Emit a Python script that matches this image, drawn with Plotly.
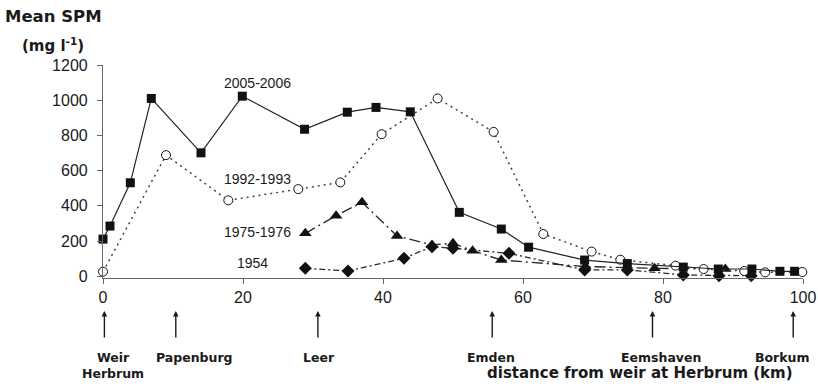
import plotly.graph_objects as go

# Distance from the weir at Herbrum (km) and mean SPM (mg/l) per survey period
km_2005 = [0, 1.0, 3.9, 6.9, 14.0, 19.9, 28.8, 34.9, 39.0, 43.9, 50.9, 56.9,
           60.8, 68.8, 74.9, 82.9, 87.9, 92.7, 96.7, 98.8]
spm_2005 = [211, 285, 531, 1010, 701, 1023, 835, 932, 959, 934, 363, 268,
            165, 92, 72, 52, 41, 41, 28, 28]

km_1992 = [0, 9.0, 17.9, 27.9, 33.9, 39.8, 47.8, 55.8, 62.9, 69.8, 73.9,
           81.8, 85.8, 91.6, 94.6, 99.9]
spm_1992 = [26, 688, 431, 495, 533, 807, 1010, 820, 240, 140, 94,
            60, 41, 30, 22, 24]

km_1975 = [28.9, 33.3, 37.0, 42.0, 47.0, 50.0, 52.8, 56.9, 68.9, 78.8, 88.9]
spm_1975 = [244, 344, 420, 229, 178, 187, 145, 92, 55, 45, 41]

km_1954 = [28.9, 35.0, 43.0, 47.0, 50.0, 58.0, 68.8, 74.9, 82.9, 88.0, 92.6]
spm_1954 = [45, 30, 102, 168, 159, 130, 36, 36, 7, 3, 3]

# Series labels and where they sit (km, mg/l)
series_labels = ["2005-2006", "1992-1993", "1975-1976", "1954"]
label_km = [22.0, 22.0, 22.0, 21.3]
label_spm = [1096, 552, 253, 74]

# Reference locations along the estuary
places = ["Weir<br>Herbrum", "Papenburg", "Leer", "Emden", "Eemshaven", "Borkum"]
place_km = [0.2, 10.4, 30.7, 55.6, 78.5, 98.6]
place_label_km = [1.4, 13.1, 30.9, 55.4, 79.7, 97.1]

x_ticks = [0, 20, 40, 60, 80, 100]
y_ticks = [0, 200, 400, 600, 800, 1000, 1200]

FONT = "Liberation Sans, Arial, sans-serif"
BOLD_FONT = "DejaVu Sans, Liberation Sans, sans-serif"
INK = "#1a1a1a"

fig = go.Figure()

fig.add_trace(go.Scatter(
    x=km_1954, y=spm_1954, mode="lines+markers", name="1954",
    line=dict(color="#2a2a2a", width=1.3, dash="6px,3px,2px,3px"),
    marker=dict(symbol="diamond", size=10, color="#111111"),
    cliponaxis=False))

fig.add_trace(go.Scatter(
    x=km_1975, y=spm_1975, mode="lines+markers", name="1975-1976",
    line=dict(color="#2a2a2a", width=1.4, dash="11px,4px,2px,4px"),
    marker=dict(symbol="triangle-up", size=11, color="#111111"),
    cliponaxis=False))

fig.add_trace(go.Scatter(
    x=km_1992, y=spm_1992, mode="lines+markers", name="1992-1993",
    line=dict(color="#444444", width=1.5, dash="2px,4px"),
    marker=dict(symbol="circle", size=9, color="white",
                line=dict(color="#111111", width=1)),
    cliponaxis=False))

fig.add_trace(go.Scatter(
    x=km_2005, y=spm_2005, mode="lines+markers", name="2005-2006",
    line=dict(color="#222222", width=1.2),
    marker=dict(symbol="square", size=9, color="#111111"),
    cliponaxis=False))

annotations = []
for txt, xk, ys in zip(series_labels, label_km, label_spm):
    annotations.append(dict(x=xk, y=ys, xref="x", yref="y", text=txt,
                            showarrow=False,
                            font=dict(family=FONT, size=14, color=INK)))

# Arrows pointing up at each location, with bold names beneath
for name, xa, xl in zip(places, place_km, place_label_km):
    annotations.append(dict(x=xa, y=-0.155, xref="x", yref="paper",
                            ax=0, ay=28, text="", showarrow=True,
                            arrowhead=2, arrowsize=0.8, arrowwidth=1.4,
                            arrowcolor=INK))
    annotations.append(dict(x=xl, y=-0.33, xref="x", yref="paper",
                            text="<b>" + name + "</b>", showarrow=False,
                            yanchor="top", align="center",
                            font=dict(family=BOLD_FONT, size=12.5, color=INK)))

# Axis titles
annotations.append(dict(x=-0.0714, y=1.0, xref="paper", yref="paper",
                        text="<b>Mean SPM</b>", showarrow=False,
                        xanchor="center", yanchor="bottom", yshift=37,
                        font=dict(family=BOLD_FONT, size=16.5, color=INK)))
annotations.append(dict(x=-0.0714, y=1.0, xref="paper", yref="paper",
                        text="<b>(mg l<sup>-1</sup>)</b>", showarrow=False,
                        xanchor="center", yanchor="bottom", yshift=8,
                        font=dict(family=BOLD_FONT, size=15, color=INK)))
annotations.append(dict(x=76.7, y=0, xref="x", yref="paper",
                        text="<b>distance from weir at Herbrum (km)</b>",
                        showarrow=False, yanchor="middle", yshift=-95,
                        font=dict(family=BOLD_FONT, size=15, color=INK)))

fig.update_layout(
    width=818, height=386,
    margin=dict(l=103, r=15, t=65, b=108, autoexpand=False),
    paper_bgcolor="white", plot_bgcolor="white",
    showlegend=False,
    font=dict(family=FONT, color=INK),
    annotations=annotations,
    xaxis=dict(range=[0, 100], tickvals=x_ticks, showgrid=False,
               zeroline=False, showline=True, linecolor="#666666",
               linewidth=1.2, ticks="outside", ticklen=5,
               tickcolor="#666666", tickfont=dict(size=16, color=INK)),
    yaxis=dict(range=[-10, 1200], tickvals=y_ticks, showgrid=False,
               zeroline=False, showline=True, linecolor="#666666",
               linewidth=1.2, ticks="outside", ticklen=5,
               tickcolor="#666666", ticklabelstandoff=6,
               tickfont=dict(size=16, color=INK)),
)

fig.write_html("out.html")
